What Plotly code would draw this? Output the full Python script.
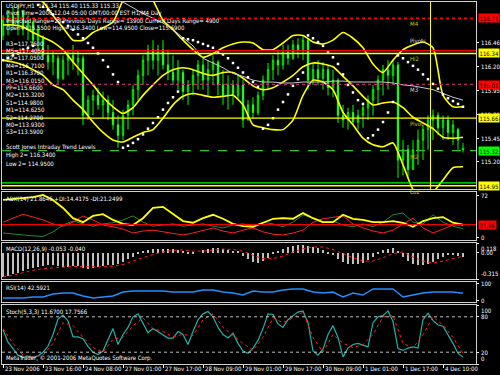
import plotly.graph_objects as go

# ---------------- data ----------------
hours_2h = list(range(0, 185, 2))
hours_4h = list(range(0, 185, 4))

candle_open = [116.53,116.67,116.74,116.64,116.78,116.59,116.67,116.48,116.50,116.32,
               116.25,116.29,116.08,116.27,116.32,116.25,116.29,115.69,115.85,115.90,
               115.80,115.85,115.72,115.59,115.48,115.69,115.80,115.96,116.11,116.27,
               116.38,116.27,116.38,116.22,116.14,116.06,116.14,115.94,116.01,116.11,
               116.22,116.06,116.17,116.25,116.01,115.90,116.01,115.90,116.01,115.64,
               115.80,115.72,115.90,116.06,116.17,116.27,116.22,116.35,116.29,116.43,
               116.38,116.48,116.06,116.17,116.08,116.17,115.98,116.06,115.69,115.64,
               115.72,115.62,115.69,115.77,115.85,115.96,116.06,116.17,116.11,116.22,
               115.22,115.33,115.12,115.33,115.43,115.54,115.64,115.69,115.56,115.64,
               115.51,115.54,115.34]
candle_high = [116.74,116.80,116.82,116.85,116.80,116.74,116.69,116.64,116.53,116.43,
               116.38,116.32,116.32,116.38,116.43,116.38,116.32,115.90,115.96,115.98,
               115.94,115.90,115.85,115.69,115.75,115.85,116.01,116.17,116.32,116.43,
               116.48,116.43,116.48,116.38,116.32,116.27,116.17,116.06,116.17,116.27,
               116.30,116.27,116.32,116.27,116.17,116.11,116.06,116.11,116.06,115.85,
               115.88,115.94,116.11,116.24,116.32,116.38,116.43,116.43,116.48,116.50,
               116.53,116.50,116.24,116.27,116.25,116.22,116.17,116.08,115.80,115.77,
               115.80,115.75,115.80,115.90,116.01,116.11,116.22,116.27,116.27,116.25,
               115.43,115.38,115.43,115.54,115.59,115.69,115.75,115.72,115.69,115.69,
               115.64,115.56,115.40]
candle_low = [116.48,116.53,116.59,116.53,116.53,116.48,116.43,116.32,116.27,116.17,
              116.11,116.01,116.06,116.11,116.17,116.11,115.59,115.64,115.69,115.75,
              115.66,115.64,115.54,115.35,115.43,115.54,115.69,115.85,116.01,116.11,
              116.17,116.11,116.17,116.06,116.01,115.96,115.85,115.80,115.90,115.96,
              115.96,115.90,116.01,115.90,115.80,115.75,115.80,115.85,115.56,115.64,
              115.66,115.69,115.85,115.96,116.06,116.11,116.17,116.22,116.27,116.29,
              116.27,115.96,116.01,116.01,115.96,115.90,115.88,115.61,115.56,115.54,
              115.59,115.54,115.56,115.64,115.69,115.80,115.90,115.96,116.01,115.03,
              115.06,115.03,115.12,115.17,115.22,115.33,115.43,115.48,115.43,115.43,
              115.38,115.33,115.30]
candle_close = [116.69,116.74,116.64,116.78,116.59,116.67,116.48,116.59,116.32,116.25,
                116.32,116.08,116.27,116.32,116.25,116.29,115.69,115.85,115.90,115.80,
                115.85,115.72,115.59,115.48,115.69,115.80,115.96,116.11,116.27,116.38,
                116.27,116.38,116.22,116.14,116.06,116.17,115.94,116.01,116.11,116.22,
                116.06,116.17,116.25,116.01,115.90,116.01,115.90,116.01,115.64,115.80,
                115.72,115.90,116.06,116.17,116.27,116.22,116.35,116.29,116.43,116.38,
                116.48,116.06,116.17,116.08,116.17,115.98,116.06,115.69,115.64,115.72,
                115.62,115.69,115.77,115.85,115.96,116.06,116.17,116.11,116.22,115.22,
                115.33,115.12,115.33,115.43,115.54,115.64,115.69,115.56,115.64,115.51,
                115.59,115.43,115.33]

bb_upper = [117.01,116.99,116.95,116.92,116.88,116.74,116.61,116.48,116.48,116.56,
            116.61,116.67,116.90,117.06,117.06,116.90,116.69,116.59,116.48,116.38,
            116.30,116.34,116.40,116.44,116.46,116.45,116.38,116.38,116.45,116.53,
            116.53,116.46,116.44,116.48,116.56,116.50,116.40,116.23,116.14,116.27,
            116.38,116.43,116.46,116.40,115.90,115.78,115.78]
bb_middle = [116.64,116.64,116.62,116.56,116.51,116.46,116.38,116.25,116.13,116.01,
             115.88,115.78,115.71,115.77,115.90,116.01,116.11,116.17,116.19,116.17,
             116.13,116.11,116.14,116.14,116.08,116.00,115.96,115.98,116.04,116.11,
             116.20,116.24,116.23,116.20,116.10,116.00,115.89,115.80,115.82,115.83,
             115.77,115.67,115.61,115.55,115.46,115.45,115.46]
bb_lower = [116.27,116.25,116.22,116.17,116.11,116.01,115.96,115.85,115.75,115.62,
            115.51,115.43,115.41,115.46,115.51,115.54,115.66,115.80,115.89,115.92,
            115.90,115.88,115.89,115.90,115.80,115.59,115.56,115.54,115.54,115.64,
            115.90,116.06,116.04,115.96,115.72,115.59,115.45,115.38,115.36,115.40,
            115.17,114.91,114.80,114.88,115.01,115.14,115.15]

sar = [116.27,116.29,116.32,116.34,116.38,116.40,116.42,
       116.85,116.83,116.80,116.75,116.71,116.67,116.63,116.59,116.54,116.50,116.45,116.40,116.34,116.27,116.20,116.12,116.04,
       115.35,115.37,115.40,115.44,115.49,115.55,115.61,115.67,115.75,115.82,115.88,115.94,
       116.50,116.49,116.48,116.46,116.44,116.42,116.40,116.36,116.33,116.29,116.24,116.19,116.14,116.09,116.04,115.99,
       115.55,115.59,115.66,115.75,115.83,115.91,116.00,116.07,116.14,
       116.53,116.50,116.46,116.42,116.36,116.30,116.23,116.12,116.01,115.93,115.85,115.81,
       115.45,115.48,115.54,115.62,115.72,115.83,
       116.32,116.29,116.25,116.21,116.17,116.12,116.07,116.02,115.97,115.91,115.87,115.84,115.81,115.78]

ma_hours = list(range(48, 185, 4))
ma_slow = [116.88,116.82,116.76,116.71,116.66,116.59,116.50,116.42,116.29,116.24,
           116.19,116.13,116.10,116.06,116.04,116.04,116.03,116.03,116.04,116.04,
           116.04,116.05,116.05,116.04,116.04,116.04,116.04,116.03,116.01,116.00,
           115.98,115.96,115.92,115.88,115.85]

level_values = [116.71, 116.37, 116.34, 116.015, 115.66, 115.32, 114.98, 114.95]
level_colors = ['#ff0000', '#ff0000', '#ffff00', '#b0306a', '#ffff00', '#30c030', '#00ff00', '#ffff00']
level_dash = ['dot', 'solid', 'solid', 'dot', 'solid', 'dash', 'solid', 'solid']
pivot_start_hour = 171

price_ticks = [116.46, 116.20, 115.95, 115.70, 115.45, 115.20]
box_values = [116.71, 116.34, 116.01, 115.66, 115.32, 114.95]
box_colors = ['#ff0000', '#ffff00', '#ff0000', '#ffff00', '#00ff00', '#ffff00']

header_lines = ["USDJPY,H1  115.34 115.40 115.33 115.33",
                "Pivot Time=2006.12.04 05:00 GMT/00:00 EST H1/M4 Day",
                "Projected Range=28 Previous Days Range= 13900 Current Days Range= 4900",
                "Open=115.5500 High=116.3400 Low=114.9500 Close=115.6900"]
pivot_lines = ["R3=117.7600", "M5=117.4050", "R2=117.0500", "M4=116.7100", "R1=116.3700",
               "M3=116.0150", "PP=115.6600", "M2=115.3200", "S1=114.9800", "M1=114.6250",
               "S2=114.2700", "M0=113.9300", "S3=113.5900"]
trend_lines = ["Scott Jones Intraday Trend Levels", "High 2= 116.3400", "Low 2= 114.9500"]
chart_label_texts = ["M4", "Pivots", "Hi2", "M3", "Pivot", "M2", "Lo2"]
chart_label_levels = [116.71, 116.53, 116.34, 116.015, 115.66, 115.32, 114.95]
chart_label_colors = ['#c8c800', '#d8d8d8', '#c8c800', '#d8d8d8', '#c8c800', '#e0a000', '#c8c800']

adx_main = [65,67,68,70,74,65,51,33,26,37,40,30,23,21,33,51,53,40,28,25,
            33,39,32,23,19,18,25,32,33,32,42,33,26,26,39,32,30,26,26,28,
            25,18,28,33,35,25,21.86]
plus_di = [7,5,3.5,2,1,9,21,28,23,19,23,25,30,37,26,19,21,23,19,21,
           23,19,16,21,23,19,26,23,18,26,39,33,25,28,21,18,23,18,26,39,
           42,26,23,39,26,19,14.42]
minus_di = [26,33,40,35,30,23,19,26,37,30,21,18,14,7,10.5,12,9,7,3.5,7,
            12,16,10.5,7,12,16,9,5,3.5,7,12,26,32,35,37,23,16,10.5,7,12,
            23,33,16,7,14,21,21.25]
adx_level = 21.86

macd_hist = [-0.29,-0.28,-0.26,-0.24,-0.22,-0.20,-0.18,-0.17,-0.16,-0.15,-0.15,-0.16,
             -0.17,-0.17,-0.16,-0.16,-0.18,-0.19,-0.18,-0.17,-0.16,-0.15,-0.15,-0.14,
             -0.11,-0.08,-0.05,-0.02,0.01,0.03,0.04,0.05,0.05,0.05,0.04,0.03,
             0.01,-0.01,-0.02,0.0,0.03,0.05,0.06,0.06,0.05,0.03,0.02,0.01,
             -0.04,-0.08,-0.11,-0.12,-0.10,-0.06,-0.02,0.02,0.05,0.07,0.08,0.09,
             0.09,0.08,0.07,0.06,0.03,-0.01,-0.03,-0.07,-0.11,-0.13,-0.14,-0.14,
             -0.12,-0.09,-0.05,-0.01,0.03,0.05,0.06,0.02,-0.05,-0.10,-0.13,-0.15,
             -0.15,-0.14,-0.11,-0.08,-0.05,-0.03,-0.03,-0.04,-0.053]
macd_signal = [-0.29,-0.27,-0.24,-0.21,-0.19,-0.18,-0.17,-0.165,-0.165,-0.17,
               -0.17,-0.16,-0.14,-0.10,-0.06,-0.02,0.01,0.03,0.035,0.02,
               0.02,0.035,0.045,0.04,0.02,-0.03,-0.07,-0.07,-0.04,0.01,
               0.05,0.07,0.07,0.04,-0.01,-0.06,-0.10,-0.10,-0.06,-0.01,
               0.01,-0.05,-0.10,-0.12,-0.10,-0.07,-0.04]

rsi = [14.7,14.7,14.7,20.6,20.6,38.2,44.1,44.1,26.5,14.7,
       20.6,26.5,50.0,55.9,55.9,55.9,55.9,50.0,50.0,50.0,
       61.8,61.8,50.0,44.1,32.4,55.9,50.0,50.0,61.8,67.6,
       67.6,50.0,44.1,50.0,20.6,44.1,32.4,67.6,67.6,67.6,
       20.6,32.4,44.1,50.0,50.0,50.0,42.59]

stoch_main = [58,37,26,15,11,13,11,14,20,30,50,76,83,73,46,46,43,30,20,16,
              22,40,60,33,50,62,80,85,70,53,60,55,50,44,44,55,50,33,55,75,
              85,89,80,62,50,44,52,35,22,18,27,40,60,85,84,68,62,75,82,88,
              90,70,22,15,25,50,65,45,12,27,33,35,32,29,70,80,82,90,72,26,
              23,27,29,27,75,86,74,66,64,50,35,18,11.67]
stoch_signal = [60,35,15,12,15,35,70,65,45,28,20,42,45,65,78,60,55,46,50,48,
                75,85,62,48,35,23,45,78,70,78,88,45,20,50,35,28,33,50,80,82,
                35,27,50,80,66,45,17.76]
stoch_levels = [80, 20]

tick_hours = [0, 16, 32, 48, 64, 80, 96, 112, 128, 144, 160, 176]
tick_labels = ["23 Nov 2006", "23 Nov 16:00", "24 Nov 08:00", "27 Nov 01:00", "27 Nov 17:00",
               "28 Nov 09:00", "29 Nov 01:00", "29 Nov 17:00", "30 Nov 09:00", "1 Dec 01:00",
               "1 Dec 17:00", "4 Dec 10:00"]

# ---------------- figure ----------------
W, H = 500, 375
FONT = "DejaVu Sans Condensed, Liberation Sans, Arial, sans-serif"
FS = 6

def py(p):
    return 1 - p / H

fig = go.Figure()

fig.add_trace(go.Candlestick(
    x=hours_2h, open=candle_open, high=candle_high, low=candle_low, close=candle_close,
    increasing=dict(line=dict(color='#00ff00', width=1), fillcolor='#000000'),
    decreasing=dict(line=dict(color='#00ff00', width=1), fillcolor='#ffffff'),
    whiskerwidth=0, xaxis='x', yaxis='y', showlegend=False, hoverinfo='skip'))

for band in (bb_upper, bb_middle, bb_lower):
    fig.add_trace(go.Scatter(x=hours_4h, y=band, mode='lines',
                             line=dict(color='#ffff00', width=1.6, shape='spline', smoothing=0.6),
                             xaxis='x', yaxis='y', showlegend=False, hoverinfo='skip'))

fig.add_trace(go.Scatter(x=ma_hours, y=ma_slow, mode='lines',
                         line=dict(color='#c8c8c8', width=1),
                         xaxis='x', yaxis='y', showlegend=False, hoverinfo='skip'))

fig.add_trace(go.Scatter(x=hours_2h, y=sar, mode='markers',
                         marker=dict(color='#ffffff', size=2.5, symbol='square'),
                         xaxis='x', yaxis='y', showlegend=False, hoverinfo='skip'))

# ADX
fig.add_trace(go.Scatter(x=hours_4h, y=plus_di, mode='lines', line=dict(color='#1f8a3a', width=1),
                         xaxis='x2', yaxis='y2', showlegend=False, hoverinfo='skip'))
fig.add_trace(go.Scatter(x=hours_4h, y=minus_di, mode='lines', line=dict(color='#ff2020', width=1),
                         xaxis='x2', yaxis='y2', showlegend=False, hoverinfo='skip'))
fig.add_trace(go.Scatter(x=hours_4h, y=adx_main, mode='lines', line=dict(color='#ffff00', width=1.8),
                         xaxis='x2', yaxis='y2', showlegend=False, hoverinfo='skip'))

# MACD
fig.add_trace(go.Bar(x=hours_2h, y=macd_hist, width=0.8, marker=dict(color='#c0c0c0', line=dict(width=0)),
                     xaxis='x3', yaxis='y3', showlegend=False, hoverinfo='skip'))
fig.add_trace(go.Scatter(x=hours_4h, y=macd_signal, mode='lines',
                         line=dict(color='#ff2020', width=1, dash='dot'),
                         xaxis='x3', yaxis='y3', showlegend=False, hoverinfo='skip'))

# RSI
fig.add_trace(go.Scatter(x=hours_4h, y=rsi, mode='lines', line=dict(color='#1e90ff', width=1.4),
                         xaxis='x4', yaxis='y4', showlegend=False, hoverinfo='skip'))

# Stochastic
fig.add_trace(go.Scatter(x=hours_2h, y=stoch_main, mode='lines', line=dict(color='#20b2aa', width=1.2),
                         xaxis='x5', yaxis='y5', showlegend=False, hoverinfo='skip'))
fig.add_trace(go.Scatter(x=hours_4h, y=stoch_signal, mode='lines',
                         line=dict(color='#ff2020', width=1, dash='dot'),
                         xaxis='x5', yaxis='y5', showlegend=False, hoverinfo='skip'))

# ---------------- layout ----------------
xdom = [2 / W, 476 / W]
xr = [-0.4, 189.2]
panels = {  # name: (top px, bottom px, range, tickvals, ticktext, label anchors)
    '': (2, 189, [114.916, 116.881], price_ticks, [f"{v:.2f}" for v in price_ticks],
         ['middle'] * len(price_ticks)),
    '2': (192, 240, [-5.27, 79.0], [72, 0], ["72", "0"], ['middle', 'middle']),
    '3': (243, 279, [-0.315, 0.118], [0.118, 0.0, -0.315], ["0.118", "0.00", "-0.315"],
          ['top', 'middle', 'bottom']),
    '4': (282, 302, [-8.8, 108.8], [100, 0], ["100", "0"], ['middle', 'middle']),
    '5': (305, 364, [0, 100], [100, 80, 20, 0], ["100", "80", "20", "0"],
          ['top', 'middle', 'middle', 'bottom']),
}
axis_common = dict(showgrid=False, zeroline=False, showline=True, mirror=True,
                   linecolor='#d0d0d0', linewidth=1)
layout = dict(width=W, height=H, margin=dict(l=0, r=0, t=0, b=0),
              paper_bgcolor='#000000', plot_bgcolor='#000000', showlegend=False,
              font=dict(family=FONT, size=FS, color='#ffffff'), bargap=0, boxgap=0.6)
ann = []
for name, (top, bot, rng, tv, tt, anc) in panels.items():
    layout['xaxis' + name] = dict(domain=xdom, range=xr, showticklabels=False, ticks='',
                                  anchor='y' + name, rangeslider=dict(visible=False), **axis_common)
    layout['yaxis' + name] = dict(domain=[1 - bot / H, 1 - top / H], range=rng, side='right',
                                  anchor='x' + name, ticks='outside', ticklen=2, tickcolor='#ffffff',
                                  tickvals=tv, showticklabels=False, **axis_common)
    for v, t, a in zip(tv, tt, anc):
        ann.append(dict(x=479 / W, y=v, xref='paper', yref='y' + name, text=t, showarrow=False,
                        xanchor='left', yanchor=a,
                        font=dict(family=FONT, size=FS, color='#ffffff')))
layout['xaxis5'].update(ticks='outside', ticklen=3, tickcolor='#ffffff', tickvals=tick_hours)
fig.update_layout(**layout)

shapes = []
for v, c, d in zip(level_values, level_colors, level_dash):
    shapes.append(dict(type='line', xref='x domain', x0=0, x1=1, yref='y', y0=v, y1=v,
                       line=dict(color=c, width=1.3, dash=d)))
shapes.append(dict(type='line', xref='x', x0=pivot_start_hour, x1=pivot_start_hour,
                   yref='y domain', y0=0, y1=1, line=dict(color='#ffff00', width=1)))
shapes.append(dict(type='line', xref='x2 domain', x0=0, x1=1, yref='y2', y0=adx_level, y1=adx_level,
                   line=dict(color='#ff0000', width=1)))
for lv in stoch_levels:
    shapes.append(dict(type='line', xref='x5 domain', x0=0, x1=1, yref='y5', y0=lv, y1=lv,
                       line=dict(color='#c0c0c0', width=1, dash='dot')))
fig.update_layout(shapes=shapes)

def text(x, y, s, color='#ffffff', xanchor='left', yanchor='middle'):
    ann.append(dict(x=x / W, y=py(y), xref='paper', yref='paper', text=s, showarrow=False,
                    xanchor=xanchor, yanchor=yanchor, font=dict(family=FONT, size=FS, color=color)))

for i, s in enumerate(header_lines):
    text(4, 6 + 7.4 * i, s)
for i, s in enumerate(pivot_lines):
    text(4, 43 + 7.4 * i, s)
for i, s in enumerate(trend_lines):
    text(4, 147 + 8 * i, s)
text(4, 199, "ADX(14) 21.8646 +DI:14.4175 -DI:21.2499")
text(4, 248, "MACD(12,26,9) -0.053 -0.040")
text(4, 287, "RSI(14) 42.5921")
text(4, 311, "Stoch(5,3,3) 11.6700 17.7566")
text(4, 358, "MetaTrader, \u00a9 2001-2006 MetaQuotes Software Corp.")

for s, lv, c in zip(chart_label_texts, chart_label_levels, chart_label_colors):
    ann.append(dict(x=162, y=lv, xref='x', yref='y', text=s, showarrow=False, xanchor='left',
                    yanchor='top', font=dict(family=FONT, size=FS, color=c)))

for v, c in zip(box_values, box_colors):
    ann.append(dict(x=478 / W, y=v, xref='paper', yref='y', text=f"{v:.2f}", showarrow=False,
                    xanchor='left', yanchor='middle', bgcolor=c, borderpad=0.5,
                    font=dict(family=FONT, size=FS, color='#000000')))
ann.append(dict(x=478 / W, y=adx_level, xref='paper', yref='y2', text=f"{adx_level:.2f}",
                showarrow=False, xanchor='left', yanchor='middle', bgcolor='#ff0000', borderpad=0.5,
                font=dict(family=FONT, size=FS, color='#000000')))

for h, s in zip(tick_hours, tick_labels):
    ann.append(dict(x=h, y=py(368), xref='x5', yref='paper', text=s, showarrow=False,
                    xanchor='left', yanchor='middle', font=dict(family=FONT, size=FS, color='#ffffff')))

fig.update_layout(annotations=ann)
fig.write_html("out.html", config={'displayModeBar': False},
               post_script="document.body.style.margin='0px';document.body.style.padding='0px';"
                           "document.body.style.overflow='hidden';")
